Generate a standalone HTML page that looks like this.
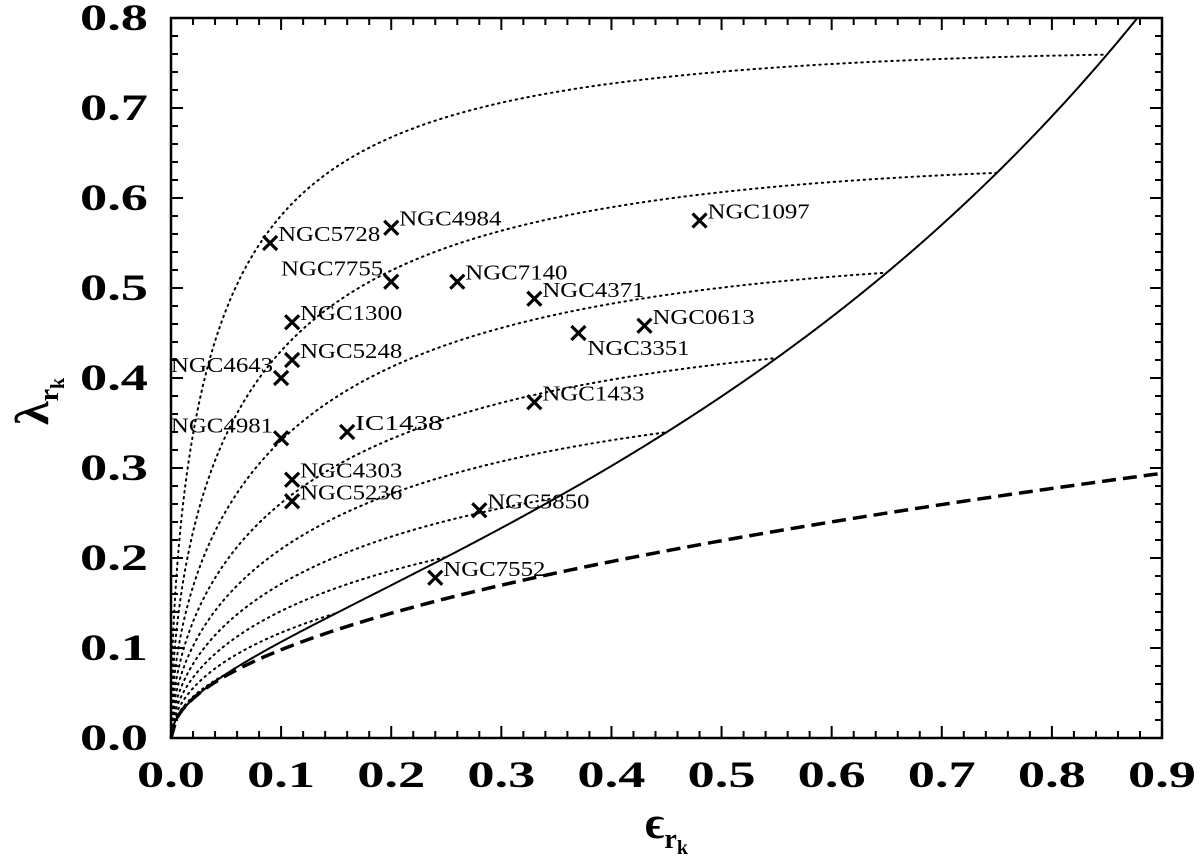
<!DOCTYPE html>
<html><head><meta charset="utf-8"><style>
html,body{margin:0;padding:0;background:#fff}
svg text{font-family:"Liberation Serif","DejaVu Serif",serif}
</style></head><body>
<svg id="chart" width="1200" height="855" xmlns="http://www.w3.org/2000/svg">
<g id="curves"></g><g id="axes"></g><g id="marks"></g>
</svg>
<script>
const names=["NGC5728","NGC4984","NGC1097","NGC7755","NGC7140","NGC4371","NGC1300","NGC3351","NGC0613","NGC5248","NGC4643","NGC1433","IC1438","NGC4981","NGC4303","NGC5236","NGC5850","NGC7552"];
const epsVals=[0.09,0.20,0.48,0.20,0.26,0.33,0.11,0.37,0.43,0.11,0.10,0.33,0.16,0.10,0.11,0.11,0.28,0.24];
const lamVals=[0.550,0.567,0.575,0.507,0.507,0.488,0.462,0.450,0.458,0.420,0.400,0.373,0.340,0.333,0.287,0.263,0.253,0.178];
const labelSide=["r","r","r","l","r","r","r","br","r","r","l","r","r","l","r","r","r","r"];
const intrinsicEps=[0.05,0.15,0.25,0.35,0.45,0.55,0.65,0.75,0.85];
const xTicks=[0,0.1,0.2,0.3,0.4,0.5,0.6,0.7,0.8,0.9];
const yTicks=[0,0.1,0.2,0.3,0.4,0.5,0.6,0.7,0.8];
const NS="http://www.w3.org/2000/svg";
const L=171,R=1162,T=18,B=738;
const X=v=>L+v/0.9*(R-L), Y=v=>B-v/0.8*(B-T);
function mk(t,a,p){const e=document.createElementNS(NS,t);for(const k in a)e.setAttribute(k,a[k]);p.appendChild(e);return e;}
const K=1.1;
function vsEdge(ei){const e=Math.sqrt(1-(1-ei)*(1-ei));const as=Math.asin(e),s=Math.sqrt(1-e*e);
 const Om=0.5*(as-e*s)/(e*s-(1-e*e)*as);const d=0.7*ei;const alpha=Math.max(0.35-0.37*ei,0.01);
 const v=((1-d)*Om-1)/(alpha*(1-d)*Om+1);return Math.sqrt(Math.max(v,0));}
const lam=v=>K*v/Math.sqrt(1+K*K*v*v);
const cg=document.getElementById('curves'),ag=document.getElementById('axes'),mg=document.getElementById('marks');
let d="M"+X(0)+","+Y(0);
for(let ei=0.002;ei<=0.95;ei+=0.002){const l=lam(vsEdge(ei));d+=" L"+X(ei).toFixed(2)+","+Y(l).toFixed(2);if(l>0.8)break;}
const sol=mk('path',{d:d,fill:"none",stroke:"#000","stroke-width":2,"clip-path":"url(#clp)"},cg);


const defs=mk('defs',{},document.getElementById('chart'));
const cp=mk('clipPath',{id:"clp"},defs);mk('rect',{x:L,y:T,width:R-L,height:B-T},cp);
d="";for(let e=0;e<=0.9001;e+=0.005){d+=(d?" L":"M")+X(e).toFixed(2)+","+Y(0.31*Math.sqrt(e)).toFixed(2);}
const da=mk('path',{d:d,fill:"none",stroke:"#000","stroke-width":3.5,"stroke-dasharray":"14,7"},cg);


intrinsicEps.forEach((ei,k)=>{const ve=vsEdge(ei),dl=0.7*ei;let s="";
 for(let i=0;i<=90;i+=0.5){const r=i*Math.PI/180,si=Math.sin(r),co=Math.cos(r);
  const eo=1-Math.sqrt(1+ei*(ei-2)*si*si);const v=ve*si/Math.sqrt(1-dl*co*co);
  s+=(s?" L":"M")+X(eo).toFixed(2)+","+Y(lam(v)).toFixed(2);}
 const p=mk('path',{d:s,fill:"none",stroke:"#000","stroke-width":2,"stroke-dasharray":"1.5,4.5","stroke-linecap":"round"},cg);
 
 
});
const fr=mk('rect',{x:L,y:T,width:R-L,height:B-T,fill:"none",stroke:"#000","stroke-width":2.5},ag);


for(let i=0;i<=45;i++){const v=i*0.02,x=X(v),len=(i%5==0)?12:7;
 mk('line',{x1:x,y1:B,x2:x,y2:B-len,stroke:"#000","stroke-width":2},ag);
 mk('line',{x1:x,y1:T,x2:x,y2:T+len,stroke:"#000","stroke-width":2},ag);}
for(let i=0;i<=40;i++){const v=i*0.02,y=Y(v),len=(i%5==0)?12:7;
 mk('line',{x1:L,y1:y,x2:L+len,y2:y,stroke:"#000","stroke-width":2},ag);
 mk('line',{x1:R,y1:y,x2:R-len,y2:y,stroke:"#000","stroke-width":2},ag);}
xTicks.forEach(v=>{const t=mk('text',{x:X(v)-34,y:787,"font-size":37,"font-weight":"bold",textLength:68,lengthAdjust:"spacingAndGlyphs"},ag);t.textContent=v.toFixed(1);
 
 });
yTicks.forEach(v=>{const t=mk('text',{x:80,y:Y(v)+12,"font-size":37,"font-weight":"bold",textLength:68,lengthAdjust:"spacingAndGlyphs"},ag);t.textContent=v.toFixed(1);
 
 });
const xt=mk('text',{x:645,y:838,"font-size":46,"font-weight":"bold"},ag);


xt.innerHTML='ϵ<tspan font-size="28" dy="10">r</tspan><tspan font-size="20" dy="6">k</tspan>';
const yt=mk('text',{x:0,y:0,"font-size":48,"font-weight":"bold",transform:"translate(48,425) rotate(-90)"},ag);


yt.innerHTML='λ<tspan font-size="28" dy="10">r</tspan><tspan font-size="20" dy="6">k</tspan>';
names.forEach((n,i)=>{const x=X(epsVals[i]),y=Y(lamVals[i]);
 const g=mk('g',{},mg);
 
 
 mk('path',{d:`M${x-7},${y-7}L${x+7},${y+7}M${x-7},${y+7}L${x+7},${y-7}`,stroke:"#000","stroke-width":3.2},g);
 const w=n.length*14.6;
 let tx=x+8,ty=y-2;
 if(labelSide[i]=="l"){tx=x-8-w;ty=y-6;}
 if(labelSide[i]=="br"){tx=x+9;ty=y+22;}
 const t=mk('text',{x:tx,y:ty,"font-size":21,textLength:w,lengthAdjust:"spacingAndGlyphs"},g);t.textContent=n;});
</script>
</body></html>
